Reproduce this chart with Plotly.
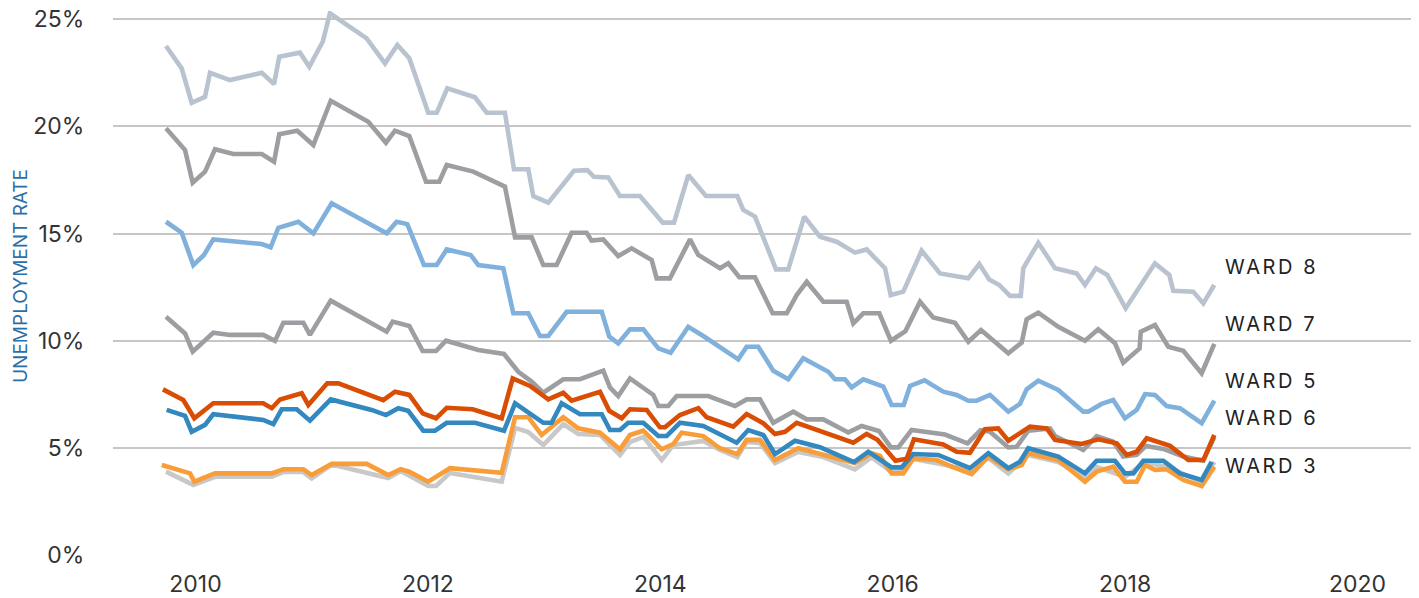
import plotly.graph_objects as go

# ---- data (decimal year, unemployment rate %) ----
w8_year = [2009.746, 2009.881, 2009.967, 2010.082, 2010.125, 2010.297, 2010.570, 2010.676, 2010.721, 2010.899,
           2010.979, 2011.095, 2011.157, 2011.473, 2011.631, 2011.737, 2011.840, 2012.003, 2012.076, 2012.167,
           2012.405, 2012.506, 2012.663, 2012.741, 2012.864, 2012.907, 2013.036, 2013.257, 2013.372, 2013.429,
           2013.552, 2013.653, 2013.825, 2014.021, 2014.118, 2014.241, 2014.393, 2014.663, 2014.714, 2014.815,
           2014.996, 2015.101, 2015.239, 2015.374, 2015.518, 2015.675, 2015.776, 2015.934, 2015.983, 2016.091,
           2016.249, 2016.407, 2016.650, 2016.745, 2016.831, 2016.917, 2017.010, 2017.102, 2017.124, 2017.253,
           2017.397, 2017.583, 2017.655, 2017.749, 2017.847, 2018.005, 2018.257, 2018.380, 2018.415, 2018.587,
           2018.673, 2018.767]
w8_rate = [23.75, 22.71, 21.10, 21.38, 22.50, 22.16, 22.50, 21.98, 23.25, 23.44,
           22.78, 23.95, 25.28, 24.11, 22.94, 23.80, 23.18, 20.64, 20.64, 21.78,
           21.36, 20.64, 20.64, 18.00, 18.00, 16.75, 16.44, 17.93, 17.96, 17.65,
           17.62, 16.75, 16.75, 15.51, 15.51, 17.73, 16.75, 16.75, 16.10, 15.79,
           13.33, 13.33, 15.79, 14.85, 14.62, 14.11, 14.26, 13.38, 12.13, 12.29,
           14.20, 13.14, 12.91, 13.58, 12.86, 12.60, 12.09, 12.09, 13.38, 14.57,
           13.38, 13.14, 12.60, 13.38, 13.07, 11.51, 13.61, 13.07, 12.33, 12.29,
           11.74, 12.60]

w7_year = [2009.746, 2009.910, 2009.976, 2010.082, 2010.168, 2010.325, 2010.570, 2010.676, 2010.721, 2010.876,
           2011.014, 2011.164, 2011.487, 2011.639, 2011.717, 2011.840, 2011.984, 2012.098, 2012.162, 2012.391,
           2012.663, 2012.750, 2012.893, 2012.993, 2013.108, 2013.237, 2013.366, 2013.409, 2013.509, 2013.638,
           2013.754, 2013.926, 2013.969, 2014.083, 2014.256, 2014.327, 2014.514, 2014.585, 2014.680, 2014.815,
           2014.967, 2015.088, 2015.174, 2015.260, 2015.403, 2015.604, 2015.661, 2015.747, 2015.885, 2015.985,
           2016.110, 2016.235, 2016.349, 2016.536, 2016.651, 2016.760, 2016.995, 2017.110, 2017.153, 2017.253,
           2017.425, 2017.655, 2017.769, 2017.913, 2017.984, 2018.125, 2018.135, 2018.257, 2018.372, 2018.501,
           2018.659, 2018.768]
w7_rate = [19.91, 18.90, 17.37, 17.89, 18.93, 18.71, 18.71, 18.35, 19.64, 19.80,
           19.13, 21.20, 20.22, 19.24, 19.80, 19.55, 17.42, 17.42, 18.20, 17.89,
           17.19, 14.82, 14.82, 13.53, 13.53, 15.04, 15.04, 14.67, 14.73, 13.95,
           14.31, 13.76, 12.91, 12.91, 14.73, 14.00, 13.38, 13.61, 12.96, 12.96,
           11.28, 11.28, 12.13, 12.75, 11.82, 11.82, 10.81, 11.28, 11.28, 10.00,
           10.45, 11.82, 11.08, 10.84, 9.95, 10.50, 9.41, 9.91, 11.00, 11.31,
           10.65, 10.00, 10.53, 9.88, 8.97, 9.64, 10.42, 10.73, 9.72, 9.53,
           8.48, 9.85]

w5_year = [2009.746, 2009.881, 2009.981, 2010.073, 2010.153, 2010.570, 2010.647, 2010.713, 2010.885, 2011.014,
           2011.172, 2011.645, 2011.731, 2011.823, 2011.966, 2012.076, 2012.162, 2012.368, 2012.434, 2012.649,
           2012.735, 2012.864, 2012.965, 2013.036, 2013.194, 2013.496, 2013.561, 2013.638, 2013.739, 2013.854,
           2013.983, 2014.089, 2014.241, 2014.370, 2014.671, 2014.743, 2014.843, 2014.972, 2015.101, 2015.230,
           2015.446, 2015.503, 2015.589, 2015.647, 2015.747, 2015.919, 2015.991, 2016.095, 2016.149, 2016.274,
           2016.435, 2016.551, 2016.651, 2016.723, 2016.837, 2016.995, 2017.095, 2017.153, 2017.253, 2017.425,
           2017.640, 2017.683, 2017.798, 2017.898, 2017.999, 2018.100, 2018.172, 2018.257, 2018.358, 2018.472,
           2018.659, 2018.768]
w5_rate = [15.55, 15.04, 13.53, 14.00, 14.73, 14.51, 14.36, 15.27, 15.55, 15.01,
           16.41, 15.01, 15.55, 15.44, 13.53, 13.53, 14.26, 14.00, 13.53, 13.38,
           11.28, 11.28, 10.22, 10.22, 11.35, 11.35, 10.19, 9.88, 10.53, 10.53,
           9.64, 9.44, 10.65, 10.22, 9.13, 9.72, 9.72, 8.60, 8.20, 9.18,
           8.55, 8.20, 8.20, 7.82, 8.20, 7.86, 7.00, 7.00, 7.89, 8.15,
           7.62, 7.47, 7.20, 7.20, 7.47, 6.69, 7.05, 7.73, 8.13, 7.70,
           6.69, 6.69, 7.05, 7.23, 6.38, 6.77, 7.51, 7.47, 6.95, 6.85,
           6.15, 7.20]

w4_year = [2009.746, 2009.910, 2009.976, 2010.153, 2010.297, 2010.583, 2010.684, 2010.756, 2010.928, 2010.985,
           2011.164, 2011.645, 2011.697, 2011.840, 2011.955, 2012.070, 2012.156, 2012.434, 2012.655, 2012.707,
           2012.778, 2012.893, 2012.993, 2013.165, 2013.309, 2013.509, 2013.567, 2013.638, 2013.739, 2013.940,
           2013.983, 2014.069, 2014.141, 2014.413, 2014.643, 2014.743, 2014.858, 2014.972, 2015.144, 2015.260,
           2015.403, 2015.618, 2015.733, 2015.882, 2015.985, 2016.048, 2016.163, 2016.450, 2016.644, 2016.756,
           2016.837, 2016.995, 2017.067, 2017.167, 2017.354, 2017.397, 2017.640, 2017.755, 2017.898, 2017.984,
           2018.100, 2018.180, 2018.330, 2018.500, 2018.673, 2018.768]
w4_rate = [11.12, 10.34, 9.49, 10.37, 10.27, 10.27, 9.99, 10.84, 10.84, 10.27,
           11.87, 10.42, 10.89, 10.69, 9.52, 9.52, 10.00, 9.57, 9.38, 9.02,
           8.55, 8.09, 7.57, 8.20, 8.20, 8.60, 7.82, 7.42, 8.24, 7.47,
           6.95, 6.95, 7.42, 7.42, 6.95, 7.26, 7.26, 6.17, 6.69, 6.33,
           6.33, 5.72, 6.02, 5.79, 5.02, 5.02, 5.83, 5.62, 5.21, 5.82,
           5.75, 5.02, 5.05, 5.80, 5.91, 5.55, 4.90, 5.55, 5.29, 4.59,
           4.67, 5.09, 4.95, 4.60, 4.40, 5.50]

w2_year = [2009.746, 2009.981, 2010.168, 2010.656, 2010.756, 2010.928, 2011.000, 2011.172, 2011.659, 2011.766,
           2012.003, 2012.070, 2012.190, 2012.635, 2012.750, 2012.864, 2012.993, 2013.165, 2013.294, 2013.481,
           2013.653, 2013.739, 2013.854, 2014.012, 2014.112, 2014.370, 2014.514, 2014.663, 2014.743, 2014.858,
           2014.987, 2015.187, 2015.403, 2015.675, 2015.819, 2015.991, 2016.091, 2016.177, 2016.390, 2016.665,
           2016.823, 2016.995, 2017.167, 2017.425, 2017.655, 2017.755, 2017.999, 2018.172, 2018.358, 2018.659,
           2018.768]
w2_rate = [3.89, 3.27, 3.65, 3.65, 3.87, 3.87, 3.57, 4.22, 3.59, 3.92,
           3.22, 3.22, 3.83, 3.42, 5.93, 5.74, 5.13, 6.11, 5.65, 5.60,
           4.67, 5.27, 5.51, 4.43, 5.13, 5.32, 4.90, 4.57, 5.27, 5.23,
           4.29, 4.81, 4.57, 4.00, 4.57, 3.87, 3.92, 4.48, 4.27, 3.97,
           4.53, 3.80, 4.67, 4.34, 3.59, 4.11, 3.64, 4.34, 4.11, 3.41,
           4.34]

w3_year = [2009.710, 2009.953, 2009.990, 2010.168, 2010.656, 2010.756, 2010.928, 2011.000, 2011.172, 2011.473,
           2011.659, 2011.766, 2011.840, 2012.003, 2012.190, 2012.635, 2012.750, 2012.864, 2012.979, 2013.165,
           2013.294, 2013.481, 2013.653, 2013.739, 2013.854, 2014.012, 2014.112, 2014.184, 2014.370, 2014.514,
           2014.663, 2014.743, 2014.858, 2014.987, 2015.187, 2015.403, 2015.675, 2015.819, 2015.891, 2015.991,
           2016.091, 2016.177, 2016.378, 2016.507, 2016.680, 2016.823, 2016.995, 2017.110, 2017.167, 2017.425,
           2017.655, 2017.755, 2017.898, 2017.999, 2018.100, 2018.172, 2018.257, 2018.358, 2018.501, 2018.659,
           2018.768]
w3_rate = [4.20, 3.81, 3.42, 3.81, 3.81, 4.00, 4.00, 3.73, 4.25, 4.25,
           3.73, 4.00, 3.89, 3.42, 4.05, 3.84, 6.43, 6.43, 5.60, 6.43,
           5.91, 5.71, 4.93, 5.60, 5.80, 4.93, 5.18, 5.71, 5.55, 4.98,
           4.71, 5.37, 5.37, 4.43, 4.98, 4.67, 4.29, 4.75, 4.62, 3.81,
           3.81, 4.51, 4.43, 4.12, 3.78, 4.59, 4.00, 4.20, 4.75, 4.43,
           3.42, 3.89, 4.12, 3.42, 3.42, 4.20, 3.97, 4.00, 3.50, 3.22,
           4.12]

w6_year = [2009.752, 2009.910, 2009.967, 2010.082, 2010.153, 2010.583, 2010.670, 2010.742, 2010.871, 2010.985,
           2011.164, 2011.516, 2011.639, 2011.745, 2011.831, 2011.960, 2012.061, 2012.162, 2012.405, 2012.655,
           2012.750, 2012.993, 2013.065, 2013.151, 2013.309, 2013.496, 2013.567, 2013.653, 2013.724, 2013.854,
           2013.983, 2014.055, 2014.169, 2014.370, 2014.657, 2014.757, 2014.886, 2014.987, 2015.159, 2015.374,
           2015.667, 2015.790, 2015.991, 2016.077, 2016.177, 2016.392, 2016.665, 2016.823, 2016.995, 2017.095,
           2017.167, 2017.425, 2017.655, 2017.755, 2017.913, 2017.999, 2018.071, 2018.157, 2018.329, 2018.472,
           2018.659, 2018.745]
w6_rate = [6.77, 6.49, 5.75, 6.07, 6.57, 6.30, 6.11, 6.80, 6.80, 6.27,
           7.26, 6.77, 6.53, 6.85, 6.73, 5.80, 5.80, 6.17, 6.17, 5.80,
           7.08, 6.17, 6.17, 7.08, 6.57, 6.57, 5.83, 5.83, 6.17, 6.17,
           5.55, 5.55, 6.17, 6.02, 5.24, 5.83, 5.60, 4.71, 5.33, 5.03,
           4.33, 4.82, 4.09, 4.09, 4.71, 4.67, 4.05, 4.75, 4.05, 4.35,
           4.98, 4.59, 3.81, 4.40, 4.40, 3.81, 3.81, 4.40, 4.40, 3.81,
           3.50, 4.35]

w1_year = [2009.720, 2009.895, 2009.990, 2010.153, 2010.583, 2010.656, 2010.727, 2010.914, 2010.971, 2011.134,
           2011.229, 2011.616, 2011.717, 2011.840, 2011.955, 2012.070, 2012.162, 2012.385, 2012.635, 2012.730,
           2012.879, 2013.036, 2013.165, 2013.237, 2013.481, 2013.561, 2013.668, 2013.739, 2013.883, 2013.997,
           2014.040, 2014.169, 2014.327, 2014.399, 2014.628, 2014.743, 2014.886, 2014.987, 2015.073, 2015.174,
           2015.661, 2015.776, 2015.869, 2016.024, 2016.120, 2016.183, 2016.435, 2016.551, 2016.665, 2016.794,
           2016.908, 2016.995, 2017.182, 2017.325, 2017.397, 2017.626, 2017.769, 2017.928, 2018.014, 2018.100,
           2018.186, 2018.387, 2018.544, 2018.673, 2018.768]
w1_rate = [7.73, 7.23, 6.38, 7.08, 7.08, 6.85, 7.26, 7.55, 7.00, 8.01,
           8.01, 7.23, 7.62, 7.47, 6.61, 6.38, 6.87, 6.80, 6.38, 8.24,
           7.89, 7.26, 7.57, 7.20, 7.62, 6.73, 6.38, 6.80, 6.77, 5.96,
           5.96, 6.53, 6.85, 6.43, 5.99, 6.58, 6.15, 5.65, 5.75, 6.17,
           5.24, 5.65, 5.38, 4.40, 4.49, 5.40, 5.16, 4.82, 4.77, 5.87,
           5.91, 5.33, 5.99, 5.91, 5.37, 5.18, 5.40, 5.21, 4.67, 4.82,
           5.45, 5.09, 4.43, 4.43, 5.60]

x_ticks = [2010, 2012, 2014, 2016, 2018, 2020]
y_ticks = [0, 5, 10, 15, 20, 25]
y_ticktext = ["0%", "5%", "10%", "15%", "20%", "25%"]

label_text = ["WARD 8", "WARD 7", "WARD 5", "WARD 6", "WARD 3"]
label_rate = [13.42, 10.79, 8.14, 6.38, 4.14]
label_year = 2018.84

y_title = "UNEMPLOYMENT RATE"

# ---- styling ----
FONT = "Inter, 'Open Sans', sans-serif"
series = [
    ("Ward 8", w8_year, w8_rate, "#b8c3cf"),
    ("Ward 7", w7_year, w7_rate, "#9c9ea1"),
    ("Ward 5", w5_year, w5_rate, "#80b0dc"),
    ("Ward 4", w4_year, w4_rate, "#9c9ea1"),
    ("Ward 2", w2_year, w2_rate, "#c8c8c9"),
    ("Ward 3", w3_year, w3_rate, "#f89d38"),
    ("Ward 6", w6_year, w6_rate, "#3388bf"),
    ("Ward 1", w1_year, w1_rate, "#d94e04"),
]

fig = go.Figure()
for name, xs, ys, col in series:
    fig.add_trace(go.Scatter(x=xs, y=ys, name=name, mode="lines",
                             line=dict(color=col, width=4.6)))

for t, r in zip(label_text, label_rate):
    fig.add_annotation(x=label_year, y=r, xref="x", yref="y",
                       text='<span style="letter-spacing:2.6px">' + t + '</span>',
                       showarrow=False, xanchor="left", yanchor="middle",
                       font=dict(family=FONT, size=20, color="#222222"))

fig.add_annotation(x=-0.071, y=0.512, xref="paper", yref="paper",
                   text=y_title, textangle=-90, showarrow=False,
                   xanchor="center", yanchor="middle",
                   font=dict(family=FONT, size=19, color="#2c6fa7"))

# the page body adds an 8px offset, so the figure is 8px smaller than the window
fig.update_layout(
    width=1411, height=590, autosize=False,
    margin=dict(l=105, r=4, t=3, b=43),
    paper_bgcolor="white", plot_bgcolor="white",
    showlegend=False,
    font=dict(family=FONT, color="#333333"),
    xaxis=dict(range=[2009.29, 2020.495], tickvals=x_ticks,
               ticktext=[str(v) for v in x_ticks],
               showgrid=False, zeroline=False, showline=False,
               automargin=False, ticklabeloverflow="allow",
               tickfont=dict(size=23, color="#333333"),
               ticks="outside", ticklen=8, tickcolor="rgba(0,0,0,0)"),
    yaxis=dict(range=[0, 25.385], tickvals=y_ticks, ticktext=y_ticktext,
               showgrid=True, gridcolor="#c6c6c6", gridwidth=2,
               zeroline=False, showline=False, automargin=False,
               ticklabeloverflow="allow",
               tickfont=dict(size=23, color="#333333"),
               ticks="outside", ticklen=23, tickcolor="rgba(0,0,0,0)"),
)

fig.write_html("out.html")
